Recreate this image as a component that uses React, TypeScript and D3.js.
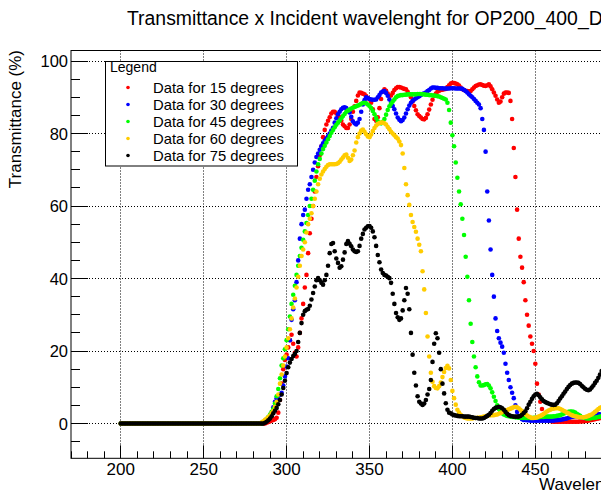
import React from "react";
import * as d3 from "d3";

// Wavelength grid (nm), one sample per nanometre
const wavelengths = d3.range(200, 491);

// All five series read 0 % between 200 and 284 nm
const flat200to284 = [
  0,0,0,0,0,0,0,0,0,0, 0,0,0,0,0,0,0,0,0,0, 0,0,0,0,0,0,0,0,0,0,
  0,0,0,0,0,0,0,0,0,0, 0,0,0,0,0,0,0,0,0,0, 0,0,0,0,0,0,0,0,0,0,
  0,0,0,0,0,0,0,0,0,0, 0,0,0,0,0,0,0,0,0,0, 0,0,0,0,0,
];

// 285 .. 490 nm
const deg15 = [
  0,0,0,0.2,0.4,0.6,0.8,1.0,1.2,1.6,3,6.5,11,15,17.5,
  19,21,23,24.5,22,19.5,18.5,21,25,29,33,37.5,41,47,52.5,56.5,
  60,64,68,71,74,76.5,79,81,82.5,83.5,84.5,85.5,86,86,
  85.5,85,84.5,83.5,82.5,82,81.5,81.5,82.5,84,86,87.5,89,90.5,91.3,
  91.2,91,90.8,90.3,89.8,89.4,88.5,86.7,84,83.5,84.5,87,89.5,91.5,92.2,
  91.8,91,90.4,90.5,91.2,92,92.5,92.8,92.8,92.7,92.5,92.3,92.2,91.5,90.8,
  90,88.8,87.6,86.4,85.3,84.8,84.4,84,83.9,84.3,85.3,86.6,88,89.3,90.4,
  91,91.5,91.8,92,92.1,92.2,92.3,92.8,93.3,93.8,94,93.9,93.8,93.6,93.2,
  92.7,92.2,92,91.8,91.7,91.6,91.7,92.2,92.7,93.1,93.3,93.5,93.6,93.4,93.2,
  93.1,93.3,93.6,93,92.2,91.3,90.4,89.4,88.5,88.8,90,91,91.3,91.3,91.2,
  89,84,76,68,59,51,46,43,39,34,30,27,24,22,20,
  16.5,11,8,6,4,2.5,1.5,1,0.8,0.7,0.6,0.5,0.5,0.5,0.5,
  0.5,0.5,0.5,0.5,0.5,0.5,0.5,0.5,0.5,0.5,0.5,0.5,0.6,0.6,0.6,
  0.7,0.7,0.8,0.9,1,1.1,1.2,1.3,1.4,1.5,1.6,
];

const deg30 = [
  0,0.3,0.6,1,1.5,2.2,3,4.5,6,7,7.6,7.9,8.5,10.5,13,
  15.7,18,23,28.6,31.5,34,39,45,51,55,57.5,59,62,64.5,66,
  68,70,72,73.5,74.5,75.5,76.5,77.3,78,78.7,79.3,80,80.8,81.6,83,
  84.2,85.3,86,86.7,87.1,87.2,87,86.5,85.8,84.6,83.4,82.8,82.5,83,84,
  86,88,89.2,90,89.8,89.5,89.4,89.3,89.3,89.4,90,90.6,91.3,91.6,91.7,
  91.2,90.4,89.4,88.5,87.6,86.7,85.5,84.4,83.8,83.4,83.7,84.4,85.5,86.7,87.7,
  88.5,89,89.4,89.7,90,90.3,90.6,90.9,91.1,91.3,91.7,92,92.4,92.7,92.7,
  92.6,92.6,92.5,92.5,92.5,92.4,92.4,92.4,92.4,92.5,92.5,92.5,92.4,92.4,92.4,
  92.4,92.3,92,91.7,91.3,90.8,90.4,90,89.5,89,88.5,88,87,84,81,
  75,64,56,48,41,35,29,25.5,23.5,22.3,21.2,19.5,16.5,14,12,
  10,8.5,7,5,3.2,2,1.5,1.2,1,1,0.9,0.9,0.8,0.8,0.8,
  0.8,0.8,0.8,0.8,0.8,0.8,0.8,0.8,0.8,0.8,0.8,0.8,0.9,0.9,1,
  1,1.1,1.2,1.3,1.4,1.6,1.7,1.8,1.9,2,2,1.9,1.8,1.6,1.5,
  1.5,1.6,1.7,1.9,2.1,2.3,2.5,2.6,2.6,2.5,2.4,
];

const deg45 = [
  0,0.3,0.7,1.2,1.8,2.5,3.2,4,5.5,7.5,9.5,12.5,16,18,20.5,
  23,26,29.5,33,35.5,38,41,43.5,46.2,48.5,50.7,53,55.3,57.5,60,
  62,64.5,67,69.5,71.5,73,74.5,75.7,76.6,77.5,78.4,79.3,80.2,81,81.7,
  82.4,83,83.6,84.2,84.8,85.4,86,86.3,86.6,86.9,87.1,87.3,87.5,87.7,87.9,
  88.2,88.4,88.5,88.3,88,87.6,87,86.2,85.3,84.3,83.4,83,82.8,83.2,84,
  85.2,86.5,87.5,88.2,88.8,89.4,90,90.3,90.5,90.6,90.6,90.7,90.7,90.8,90.8,
  90.8,90.8,90.8,90.8,90.9,90.9,90.9,90.8,90.8,90.7,90.7,90.6,90.6,90.5,90.5,
  90.4,90.3,90.2,90,89.8,89.6,89.4,88.5,86.5,83,79.5,76.5,72,67.8,64,
  60.5,56.5,52,46,40.5,34,27.5,22.5,18.5,15.5,13,11.4,10.5,10.5,10.6,
  10.8,10.9,10.5,9.7,8.6,7.4,6.2,5,4,3.3,2.8,2.5,2.3,2.1,2,
  1.9,1.8,1.8,1.7,1.7,1.6,1.6,1.5,1.5,1.5,1.5,1.5,1.5,1.5,1.6,
  1.6,1.7,1.7,1.8,1.8,1.8,1.9,1.9,1.9,1.9,1.9,2,2,2.1,2.2,
  2.3,2.5,2.7,2.9,3.1,3.2,3.3,3.3,3.2,3,2.7,2.4,2.1,1.8,1.6,
  1.5,1.4,1.4,1.4,1.5,1.5,1.6,1.7,1.8,1.9,2,
];

const deg60 = [
  0.3,0.6,1,1.4,1.8,2.2,2.9,3.5,4.6,6,8,11,13.5,16,18.5,
  21,23.5,26,29,32,34.5,37.5,40.5,43.5,46.2,48,50,52.7,55,56.5,
  58,60,62,64,66,67.5,68.7,69.5,70.2,70.8,71.3,71.5,71.5,71.5,71.5,
  71.6,71.8,72.2,72.8,73.4,74,74.2,73.3,72.4,72.8,74,75.3,77.5,79,80,
  80.8,81.1,80.5,79.8,79.2,79,79.7,80.7,81.5,82.2,82.6,82.9,83,83,82.8,
  82.5,81.8,81.2,80.5,80,79.5,79,78.6,77.8,76.8,74.5,70.5,66,63,60.3,
  57.5,55.6,54.2,52.9,51,49.3,47.5,42,37,30.5,24,18.5,14,11.5,10.3,
  9.8,9.7,10.3,11.3,12.8,14.2,15.3,15.9,15.2,12,9,7,5.2,3.8,3,
  2.4,2,1.7,1.5,1.4,1.4,1.4,1.4,1.5,1.5,1.6,1.6,1.7,1.8,1.9,
  2,2.1,2.2,2.3,2.3,2.3,2.4,2.5,2.7,2.9,3.1,3.3,3.5,3.7,3.9,
  4.1,4.3,4.5,4.6,4.5,4.2,3.8,3.4,3,2.6,2.2,1.9,1.7,1.5,1.5,
  1.6,1.7,1.9,2.1,2.3,2.6,3,3.3,3.6,3.8,4,4.1,4.2,4.2,4.2,
  4,3.8,3.5,3.3,3,2.8,2.5,2.3,2.1,2,1.9,1.8,1.7,1.7,1.7,
  1.8,1.9,2.1,2.3,2.5,2.8,3.2,3.6,4,4.3,4.5,
];

const deg75 = [
  0,0,0.2,0.5,0.9,1.4,2,2.8,3.5,4.3,5.3,6.5,8,9.8,11.8,
  13.9,15.5,16.8,17.8,18.6,19.2,20,22.5,25,27.7,30,31,31.4,31.6,32.5,
  34.2,36,37.8,39.5,40.1,39.5,38.8,38.3,39.5,41,43.5,47,49.5,49.8,47.5,
  45.5,44.3,43,43.4,45.2,47.2,49.5,50.3,49.6,48.9,48,47.5,47.3,47.5,49,
  51,52.3,53.5,54,54.4,54.5,54,53,51.4,49,46.5,44.5,42.5,41.5,41,
  40.8,40.5,40.1,38.8,35.8,33,30.5,29.3,28.6,29,31.2,34,37.4,35.8,31.5,
  25,19,14,10.5,7.5,6,5.5,5.1,5.5,6.5,8,9.5,12,17,22,
  24.9,23.5,19.5,15,11,8.3,5.6,3.8,3,2.8,2.5,2.3,2.2,2.1,2,
  2,2,1.9,1.9,1.9,1.9,1.8,1.7,1.6,1.5,1.5,1.4,1.4,1.4,1.5,
  1.8,2.1,2.4,2.9,3.5,4,4.3,4.5,4.6,4.5,4.2,3.8,3.2,2.7,2.3,
  2.1,2,1.9,1.9,1.9,1.9,2.1,2.4,2.9,3.4,4.2,5.2,6,6.8,7.5,
  8,8.2,7.8,7.2,6.7,6.2,5.9,5.7,5.5,5.3,5.2,5.1,5.2,5.6,6.2,
  6.9,7.5,8.2,8.8,9.5,10.1,10.6,11,11.2,11.3,11.3,11.2,10.9,10.4,10,
  9.6,9.3,9.2,9.4,9.9,10.5,11.2,11.8,12.6,13.5,14.5,
];

const seriesLabels = [
  "Data for 15 degrees",
  "Data for 30 degrees",
  "Data for 45 degrees",
  "Data for 60 degrees",
  "Data for 75 degrees",
];
const seriesColors = ["#ff0000", "#0000ff", "#00ff00", "#ffcc00", "#000000"];
const seriesValues = [deg15, deg30, deg45, deg60, deg75].map((v) => [...flat200to284, ...v]);

const xMajorTicks = [200, 250, 300, 350, 400, 450, 500];
const xMinorTicks = d3.range(170, 531, 10);
const yMajorTicks = [0, 20, 40, 60, 80, 100];
const yMinorTicks = d3.range(-5, 103, 5);

const titleText = "Transmittance x Incident wavelenght for OP200_400_D";
const xTitle = "Wavelength (nm)";
const yTitle = "Transmittance (%)";
const legendHeader = "Legend";

const W = 601;
const H = 499;
const left = 71;
const right = 668;
const top = 50.5;
const bottom = 458.3;
const FONT = "'Liberation Sans', Arial, Helvetica, sans-serif";

export default function App() {
  const x = d3.scaleLinear().domain([170, 530]).range([left, right]);
  const y = d3.scaleLinear().domain([-9.6, 102.9]).range([bottom, top]);
  const crisp = (v: number) => Math.floor(v) + 0.5;
  const labelTicks = xMajorTicks.filter((t) => x(t) + 14 <= W);

  return (
    <svg
      width={W}
      height={H}
      viewBox={`0 0 ${W} ${H}`}
      style={{ position: "absolute", left: 0, top: 0, background: "#fff" }}
      fontFamily={FONT}
    >
      <rect x={0} y={0} width={W} height={H} fill="#fff" />
      <defs>
        <clipPath id="frameClip">
          <rect x={left} y={top} width={right - left} height={bottom - top} />
        </clipPath>
      </defs>

      {/* title */}
      <text x={127} y={25} fontSize={19.4} fill="#000">
        {titleText}
      </text>

      {/* grid */}
      <g stroke="#000" strokeWidth={1} strokeDasharray="1 2" fill="none">
        {xMajorTicks.map((t) => (
          <line key={"gx" + t} x1={crisp(x(t))} x2={crisp(x(t))} y1={top} y2={bottom} />
        ))}
        {yMajorTicks.map((t) => (
          <line key={"gy" + t} x1={left} x2={right} y1={crisp(y(t))} y2={crisp(y(t))} />
        ))}
      </g>

      {/* data */}
      <g clipPath="url(#frameClip)">
        {seriesValues.map((vals, si) => (
          <g key={"s" + si} fill={seriesColors[si]}>
            {vals.map((v, i) => (
              <circle key={i} cx={x(wavelengths[i])} cy={y(v)} r={2.3} />
            ))}
          </g>
        ))}
      </g>

      {/* frame */}
      <rect x={left} y={top} width={right - left} height={bottom - top} fill="none" stroke="#000" strokeWidth={1} />

      {/* ticks */}
      <g stroke="#000" strokeWidth={1}>
        {xMinorTicks.map((t) => {
          const major = xMajorTicks.includes(t);
          return (
            <line
              key={"xt" + t}
              x1={crisp(x(t))}
              x2={crisp(x(t))}
              y1={bottom}
              y2={bottom - (major ? 13 : 7)}
            />
          );
        })}
        {yMinorTicks.map((t) => {
          const major = yMajorTicks.includes(t);
          return (
            <line
              key={"yt" + t}
              x1={left}
              x2={left + (major ? 17 : 9)}
              y1={crisp(y(t))}
              y2={crisp(y(t))}
            />
          );
        })}
      </g>

      {/* tick labels */}
      <g fontSize={17} fill="#000" textAnchor="middle">
        {labelTicks.map((t) => (
          <text key={"xl" + t} x={x(t)} y={475}>
            {t}
          </text>
        ))}
      </g>
      <g fontSize={16.5} fill="#000" textAnchor="end">
        {yMajorTicks.map((t) => (
          <text key={"yl" + t} x={68} y={y(t) + 6}>
            {t}
          </text>
        ))}
      </g>

      {/* axis titles */}
      <text x={539} y={490} fontSize={17} fill="#000">
        {xTitle}
      </text>
      <text transform="translate(21,50) rotate(-90)" textAnchor="end" fontSize={17} fill="#000">
        {yTitle}
      </text>

      {/* legend */}
      <rect x={105.5} y={61.5} width={192} height={104.5} fill="#fff" stroke="#000" strokeWidth={1} />
      <text x={110} y={72} fontSize={14} fill="#000">
        {legendHeader}
      </text>
      {seriesLabels.map((lab, i) => {
        const ry = 87.5 + i * 17;
        return (
          <g key={"lg" + i}>
            <circle cx={128} cy={ry} r={1.8} fill={seriesColors[i]} />
            <text x={153} y={ry + 5} fontSize={14.8} fill="#000">
              {lab}
            </text>
          </g>
        );
      })}
    </svg>
  );
}
